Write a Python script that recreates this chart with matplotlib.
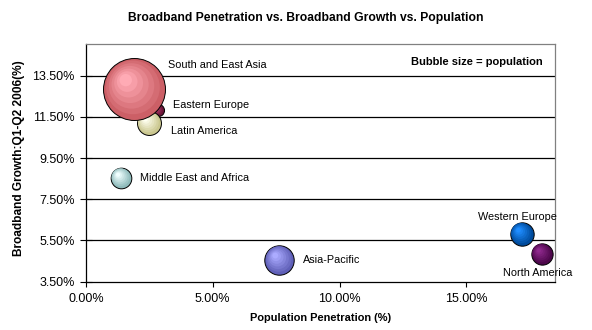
import matplotlib
matplotlib.use("Agg")
import matplotlib.pyplot as plt
import matplotlib.transforms as mtransforms
import numpy as np
from matplotlib.colors import to_rgb

plt.rcParams['font.family'] = ['Liberation Sans', 'DejaVu Sans']

regions = ["South and East Asia", "Eastern Europe", "Latin America",
           "Middle East and Africa", "Asia-Pacific", "Western Europe", "North America"]
penetration = [1.91, 2.83, 2.48, 1.38, 7.63, 17.19, 17.98]   # %
growth = [12.87, 11.82, 11.23, 8.55, 4.56, 5.83, 4.86]        # %
population = [2880, 110, 430, 320, 650, 410, 340]            # relative
colors = ["#F07078", "#7A1840", "#EEEAA8", "#A8DCDC", "#7070D8", "#0058B8", "#5A0858"]

xticks = [0, 5, 10, 15]
yticks = [3.5, 5.5, 7.5, 9.5, 11.5, 13.5]

fig = plt.figure(figsize=(5.92, 3.30), dpi=100)
ax = fig.add_axes([86/592, 1-281.5/330, (555-86)/592, (281.5-44)/330])

ax.set_xlim(0, 18.5)
ax.set_ylim(3.5, 15.05)

for yt in yticks[1:]:
    ax.axhline(yt, color="black", lw=0.9, zorder=1)

size_k = 0.6912
# drawing order: Eastern Europe at the back, South and East Asia on top
draw_order = [1, 2, 3, 4, 5, 6, 0]
for z, i in enumerate(draw_order):
    x, y, p, c = penetration[i], growth[i], population[i], colors[i]
    s = size_k * p
    r_pt = np.sqrt(s) / 2
    base = np.array(to_rgb(c))
    zo = 3 + z * 0.1
    ax.scatter([x], [y], s=s, color=base * 0.85, edgecolors="black", linewidths=0.7, zorder=zo)
    n = 6
    for k in range(1, n + 1):
        f = 1 - k / (n + 1.5)
        col = base * 0.85 + (np.minimum(base * 1.25 + 0.12, 1) - base * 0.85) * (k / n)
        off = (1 - f) * r_pt * 0.35
        tr = mtransforms.offset_copy(ax.transData, fig=fig, x=-off, y=off, units="points")
        ax.scatter([x], [y], s=s * f * f, color=col, edgecolors="none",
                   zorder=zo + 0.001 * k, transform=tr)

label_offsets = {
    "South and East Asia": (24, 17, "left"),
    "Eastern Europe": (11, 4, "left"),
    "Latin America": (16, -6, "left"),
    "Middle East and Africa": (14, 0, "left"),
    "Asia-Pacific": (17, 0, "left"),
    "Western Europe": (-3, 12, "center"),
    "North America": (-3, -14, "center"),
}
for i, name in enumerate(regions):
    dx, dy, ha = label_offsets[name]
    ax.annotate(name, (penetration[i], growth[i]), xytext=(dx, dy), textcoords="offset points",
                ha=ha, va="center", fontsize=7.8, zorder=5, annotation_clip=False)

ax.set_xticks(xticks)
ax.set_xticklabels([f"{v:.2f}%" for v in xticks])
ax.set_yticks(yticks)
ax.set_yticklabels([f"{v:.2f}%" for v in yticks])
ax.tick_params(axis="x", direction="out", length=3.6, width=0.8, labelsize=9, pad=5)
ax.tick_params(axis="y", direction="inout", length=8, width=0.8, labelsize=9, pad=4)

for side in ["left", "bottom"]:
    ax.spines[side].set_color("black")
    ax.spines[side].set_linewidth(0.9)
for side in ["top", "right"]:
    ax.spines[side].set_color("#808080")
    ax.spines[side].set_linewidth(0.9)

ax.set_xlabel("Population Penetration (%)", fontsize=7.9, fontweight="bold", labelpad=5.5)
ax.set_ylabel("Broadband Growth:Q1-Q2 2006(%)", fontsize=8.6, fontweight="bold")
ax.yaxis.set_label_coords(-0.130, 0.52)

ax.text(0.974, 0.925, "Bubble size = population", transform=ax.transAxes, ha="right", va="center",
        fontsize=8.05, fontweight="bold")

fig.text(305.5/592, 1-18/330, "Broadband Penetration vs. Broadband Growth vs. Population",
         ha="center", va="center", fontsize=8.75, fontweight="bold")

fig.savefig("out.png", dpi=100)
